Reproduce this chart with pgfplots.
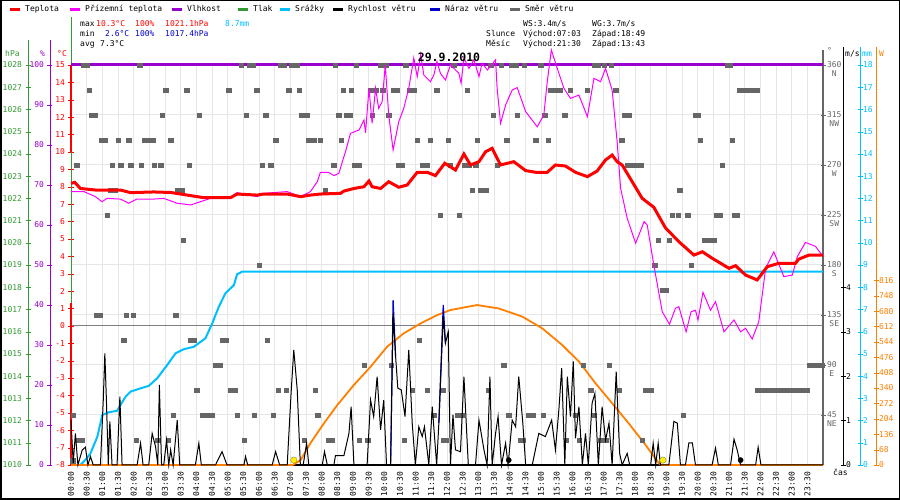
\documentclass[border=0pt]{standalone}
\usepackage{fontspec}
\setmainfont{DejaVu Sans Mono}
\usepackage{pgfplots}
\pgfplotsset{compat=1.18}
\usepackage{pgfplotstable}

\definecolor{tlak}{HTML}{339933}
\definecolor{vlh}{HTML}{9900CC}
\definecolor{teplo}{HTML}{FF0000}
\definecolor{priz}{HTML}{FF00FF}
\definecolor{sraz}{HTML}{00BFFF}
\definecolor{naraz}{HTML}{0000CC}
\definecolor{smer}{HTML}{666666}
\definecolor{solar}{HTML}{FF8000}
\definecolor{gridc}{HTML}{E6E6E6}
\definecolor{minc}{HTML}{0000CC}

\pgfplotsset{
  every axis/.append style={scale only axis,
    /pgf/number format/1000 sep={},
    /pgf/number format/assume math mode=true,
    ticklabel style={font=\fontsize{8}{8}\selectfont},
    major tick length=5pt, tick align=center},
  full/.style={at={(71pt,35pt)}, anchor=south west, width=752pt, height=400pt,
    xmin=0, xmax=24},
  series/.style={full, hide axis, clip=false},
  narrowL/.style={anchor=south west, width=10pt, height=400pt, xmin=0, xmax=1,
    axis y line*=left, axis x line=none},
  narrowR/.style={anchor=south east, width=10pt, height=400pt, xmin=0, xmax=1,
    axis y line*=right, axis x line=none},
}

\pgfplotstableread{
h T
0.00 8.20
0.12 8.25
0.30 7.90
0.78 7.81
1.58 7.81
1.90 7.66
2.64 7.70
3.18 7.67
3.71 7.52
4.24 7.37
5.09 7.37
5.30 7.58
5.94 7.52
6.15 7.58
6.90 7.58
7.33 7.43
7.64 7.52
7.96 7.58
8.60 7.62
8.71 7.75
9.03 7.90
9.35 8.00
9.51 8.33
9.61 8.00
9.88 7.90
10.14 8.29
10.46 7.97
10.73 8.10
11.05 8.83
11.37 8.83
11.63 8.64
11.93 9.35
12.27 8.96
12.54 9.88
12.75 9.25
13.02 9.44
13.23 10.01
13.44 10.21
13.71 9.25
14.13 9.44
14.51 8.93
14.83 8.83
15.20 8.83
15.46 9.25
15.78 9.19
16.10 8.83
16.48 8.58
16.79 8.90
17.06 9.54
17.27 9.82
17.43 9.44
17.59 9.25
17.91 8.29
18.23 7.33
18.60 6.82
18.97 5.64
19.40 4.84
19.88 4.07
20.15 4.26
20.47 3.88
21.00 3.31
21.21 3.46
21.53 2.92
21.90 2.64
22.22 3.40
22.59 3.60
23.12 3.60
23.23 3.84
23.55 4.07
24.00 4.07
}\tempdata

\pgfplotstableread{
h T
0.00 7.72
0.41 7.72
0.78 7.43
0.99 7.14
1.15 7.33
1.58 7.29
1.84 7.05
2.10 7.29
2.64 7.29
2.96 7.33
3.39 7.05
3.82 6.95
4.13 7.14
4.45 7.33
5.09 7.37
5.30 7.66
5.51 7.58
5.94 7.43
6.15 7.62
6.90 7.72
7.33 7.43
7.64 7.72
7.86 8.29
7.96 8.83
8.22 8.83
8.39 8.64
8.55 8.77
8.66 9.44
8.76 10.01
8.92 11.07
9.19 11.26
9.35 11.84
9.40 11.10
9.51 13.66
9.61 11.65
9.72 13.66
9.82 12.51
9.93 12.89
10.03 15.00
10.14 12.12
10.28 10.11
10.46 11.74
10.62 12.51
10.78 13.66
10.94 15.40
11.05 14.33
11.16 15.60
11.26 14.42
11.47 14.04
11.58 14.42
11.68 15.20
11.79 14.52
11.95 14.14
12.11 15.00
12.38 14.52
12.45 13.95
12.54 15.40
12.70 14.80
12.86 15.30
13.02 14.33
13.12 15.10
13.29 14.71
13.55 15.30
13.60 13.66
13.71 11.65
13.87 12.70
14.08 13.56
14.24 13.70
14.51 12.32
14.88 11.45
15.09 12.12
15.20 14.04
15.33 15.86
15.52 14.80
15.73 13.66
15.94 13.08
16.21 13.27
16.48 12.03
16.69 14.23
16.90 14.04
17.06 14.80
17.27 13.56
17.43 10.59
17.54 7.91
17.75 6.19
18.02 4.75
18.29 5.99
18.39 5.80
18.60 3.50
18.87 0.81
19.10 0.09
19.29 1.01
19.40 1.10
19.63 -0.34
19.79 0.81
19.93 0.90
20.01 0.34
20.17 1.93
20.41 0.90
20.57 1.39
20.84 -0.34
21.16 0.34
21.37 -0.34
21.53 -0.14
21.74 -0.76
21.95 0.24
22.17 3.31
22.43 4.26
22.75 2.83
23.02 2.92
23.18 3.98
23.44 4.80
23.76 4.57
23.97 4.07
}\prizdata

\pgfplotstableread{
h mm
0.00 0
0.30 0
0.46 0.23
0.62 0.52
0.84 1.27
1.00 2.25
1.20 2.37
1.47 2.44
1.58 2.70
1.74 3.07
1.90 3.30
2.22 3.45
2.48 3.56
2.75 3.90
3.07 4.50
3.34 5.03
3.60 5.21
3.92 5.32
4.29 5.70
4.51 6.38
4.72 7.13
4.93 7.73
5.20 8.10
5.30 8.58
5.46 8.70
24.00 8.70
}\srazdata

\pgfplotstableread{
h W
0.00 0
7.08 0
7.33 22
7.64 96
8.07 184
8.50 265
9.03 354
9.56 434
10.09 523
10.62 582
11.16 626
11.69 663
12.11 685
12.96 707
13.65 692
14.40 656
15.04 604
15.68 530
16.21 457
16.74 361
17.27 273
17.80 184
18.34 88
18.76 8
18.85 0
24.00 0
}\solardata

\pgfplotstableread{
h ws
0.00 1.01
0.07 0.04
0.14 0.71
0.22 0
0.36 0.34
0.46 0.40
0.54 0
0.62 0.19
0.71 0
0.94 0
1.03 1.46
1.08 2.51
1.13 1.46
1.19 0
1.24 0.98
1.31 0
1.47 0
1.56 1.54
1.63 0
2.11 0
2.22 0.49
2.30 0
2.48 0
2.59 0.71
2.70 0.41
2.77 0
2.82 1.80
2.89 0
2.96 0
3.05 0.56
3.12 0
3.18 0.34
3.26 0
3.39 1.01
3.47 0
3.97 0
4.08 0.49
4.16 0
4.61 0
4.82 0.30
4.98 0
5.52 0
5.57 0.19
5.64 0
6.42 0
6.53 0.30
6.66 0
6.90 0
7.03 1.69
7.11 2.59
7.22 1.69
7.32 0
7.41 0
7.52 0.49
7.59 0
8.02 0
8.09 0.30
8.18 0
8.39 0
8.44 0.21
8.71 0.21
8.87 0.71
8.94 1.31
9.03 0
9.45 0
9.56 1.46
9.66 1.09
9.77 1.99
9.88 0.79
9.98 1.46
10.07 0
10.20 0
10.28 3.41
10.36 2.44
10.43 1.73
10.54 1.69
10.66 1.09
10.78 2.59
10.89 0.94
10.99 0
11.10 0.86
11.21 0.64
11.28 0.86
11.42 0
11.53 1.31
11.67 0
11.74 0.94
11.88 3.34
11.95 2.74
12.04 3.00
12.11 0
12.19 1.13
12.27 0.34
12.43 0.30
12.54 1.99
12.68 0
12.91 0
13.02 1.01
13.18 0.34
13.28 0
13.37 1.99
13.44 0
13.55 0.71
13.63 1.09
13.74 0
13.87 0.49
13.95 0
14.08 1.01
14.19 0.86
14.29 1.99
14.42 0.94
14.51 0
14.72 0
14.93 0.71
15.14 0.64
15.34 1.01
15.46 0.34
15.57 1.24
15.66 2.18
15.76 0
15.84 1.99
15.94 1.09
16.03 2.33
16.10 0.60
16.21 1.31
16.32 0
16.42 0.71
16.51 0
16.63 1.39
16.72 1.61
16.83 0
16.95 1.31
17.06 0.56
17.17 0.94
17.27 0
17.40 2.10
17.51 0.26
17.59 0
17.75 0.26
17.83 0
18.50 0
18.58 0.49
18.66 0
18.74 0.49
18.81 0
19.08 0
19.24 0.98
19.35 0.94
19.45 0
19.61 0
19.72 0.50
19.83 0.50
19.93 0
20.46 0
20.57 0.38
20.66 0
21.05 0
21.16 0.58
21.26 0.34
21.37 0
21.85 0
21.93 0.40
22.02 0
24.00 0
}\winddata

\pgfplotstableread{
h wg
10.20 0
10.28 3.71
10.36 2.44
11.80 nan
11.74 0.94
11.88 3.60
11.95 2.74
}\gustdata

\pgfplotstableread{
h d
0.41 360
0.52 360
2.19 360
5.44 360
5.68 360
5.81 360
6.69 360
6.79 360
7.04 360
7.20 360
8.44 360
9.10 360
9.88 360
10.04 360
10.68 360
12.22 360
13.39 360
13.73 360
14.05 360
14.19 360
14.47 360
14.99 360
16.72 360
16.83 360
17.01 360
17.24 360
20.94 360
21.02 360
0.59 337.5
3.02 337.5
3.69 337.5
5.03 337.5
5.93 337.5
6.95 337.5
7.29 337.5
8.69 337.5
8.95 337.5
9.56 337.5
9.74 337.5
9.95 337.5
10.28 337.5
10.41 337.5
10.80 337.5
10.94 337.5
11.67 337.5
12.64 337.5
15.30 337.5
15.46 337.5
15.62 337.5
15.94 337.5
16.47 337.5
17.38 337.5
21.32 337.5
21.47 337.5
21.63 337.5
21.79 337.5
21.90 337.5
0.64 315
0.75 315
2.92 315
4.10 315
5.60 315
6.21 315
7.36 315
7.54 315
8.54 315
8.78 315
8.92 315
9.61 315
10.14 315
13.47 315
14.24 315
15.12 315
15.75 315
17.67 315
17.82 315
19.93 315
20.01 315
0.97 292.5
1.10 292.5
1.51 292.5
1.84 292.5
2.35 292.5
2.48 292.5
2.62 292.5
3.18 292.5
6.53 292.5
7.59 292.5
7.75 292.5
7.96 292.5
8.63 292.5
11.05 292.5
11.47 292.5
12.04 292.5
12.97 292.5
13.90 292.5
14.83 292.5
15.23 292.5
17.57 292.5
20.09 292.5
21.10 292.5
0.18 270
1.32 270
1.58 270
1.91 270
2.24 270
2.65 270
2.86 270
3.78 270
6.11 270
6.37 270
8.39 270
9.03 270
9.20 270
10.44 270
10.57 270
11.21 270
11.35 270
12.11 270
12.54 270
12.70 270
12.91 270
13.60 270
17.75 270
17.91 270
18.07 270
18.18 270
20.78 270
1.26 247.5
1.42 247.5
3.41 247.5
3.55 247.5
8.12 247.5
12.80 247.5
13.07 247.5
13.25 247.5
19.42 247.5
1.15 225
11.79 225
12.38 225
19.19 225
19.37 225
19.68 225
20.59 225
20.72 225
21.17 225
21.27 225
3.58 202.5
18.74 202.5
19.10 202.5
20.20 202.5
20.36 202.5
20.52 202.5
6.01 180
18.63 180
19.79 180
18.87 157.5
19.00 157.5
0.80 135
0.94 135
1.76 135
1.99 135
3.34 135
1.68 112.5
3.81 112.5
3.94 112.5
4.82 112.5
4.96 112.5
6.27 112.5
11.12 112.5
4.61 90
4.77 90
9.35 90
10.22 90
13.81 90
16.34 90
17.17 90
23.55 90
23.71 90
23.87 90
23.98 90
4.01 67.5
5.09 67.5
5.22 67.5
6.61 67.5
6.87 67.5
7.80 67.5
10.89 67.5
11.37 67.5
11.86 67.5
13.32 67.5
16.58 67.5
17.49 67.5
18.34 67.5
18.50 67.5
21.90 67.5
22.05 67.5
22.20 67.5
22.35 67.5
22.50 67.5
22.65 67.5
22.80 67.5
22.95 67.5
23.10 67.5
23.25 67.5
23.40 67.5
23.50 67.5
0.07 45
3.26 45
4.19 45
4.35 45
4.50 45
5.30 45
5.85 45
6.45 45
7.87 45
11.58 45
12.33 45
12.48 45
13.97 45
14.61 45
14.74 45
15.07 45
16.10 45
16.69 45
19.54 45
0.25 22.5
0.36 22.5
2.09 22.5
2.77 22.5
3.11 22.5
5.53 22.5
7.45 22.5
8.21 22.5
8.34 22.5
9.19 22.5
9.47 22.5
10.64 22.5
11.88 22.5
11.98 22.5
14.35 22.5
14.42 22.5
15.80 22.5
16.22 22.5
16.90 22.5
17.09 22.5
18.23 22.5
0.05 4
}\dirdata

\begin{document}
\begin{tikzpicture}[font=\fontsize{8}{8}\selectfont]
\useasboundingbox (0,0) rectangle (900pt,500pt);
\fill[white] (0,0) rectangle (900pt,500pt);

% ---------- grid / time axis / wind direction axis
\begin{axis}[full, ymin=0, ymax=360,
  axis x line*=bottom, axis y line*=right,
  x axis line style={black, line width=2pt},
  y axis line style={smer, line width=1.5pt, shorten >=-15pt},
  xtick={0,0.5,...,23.5},
  xticklabels={00:00,00:30,01:00,01:30,02:00,02:30,03:00,03:30,04:00,04:30,05:00,05:30,06:00,06:30,07:00,07:30,08:00,08:30,09:00,09:30,10:00,10:30,11:00,11:30,12:00,12:30,13:00,13:30,14:00,14:30,15:00,15:30,16:00,16:30,17:00,17:30,18:00,18:30,19:00,19:30,20:00,20:30,21:00,21:30,22:00,22:30,23:00,23:30},
  xticklabel style={rotate=90, anchor=east, text=black, xshift=-1pt},
  xtick style={draw=none},
  xmajorgrids, ymajorgrids, grid style={gridc, line width=1pt},
  ytick={45,90,135,180,225,270,315,360},
  yticklabels={{\begin{tabular}[t]{@{}c@{}}45\\NE\end{tabular}},
    {\begin{tabular}[t]{@{}c@{}}90\\E\end{tabular}},
    {\begin{tabular}[t]{@{}c@{}}135\\SE\end{tabular}},
    {\begin{tabular}[t]{@{}c@{}}180\\S\end{tabular}},
    {\begin{tabular}[t]{@{}c@{}}225\\SW\end{tabular}},
    {\begin{tabular}[t]{@{}c@{}}270\\W\end{tabular}},
    {\begin{tabular}[t]{@{}c@{}}315\\NW\end{tabular}},
    {\begin{tabular}[t]{@{}c@{}}360\\N\end{tabular}}},
  yticklabel style={text=smer, anchor=base west, yshift=-3pt, xshift=-2pt},
  ytick style={draw=smer}]
\end{axis}

% ---------- temperature axis (left), 0 line
\begin{axis}[full, ymin=-8, ymax=15, clip=false,
  axis y line*=left, axis x line=none,
  y axis line style={tlak, shorten >=-48pt},
  ytick={-8,...,15}, ytick style={draw=teplo},
  yticklabel style={text=teplo}]
\addplot[draw=gray, line width=1pt] coordinates {(0,0) (24,0)};
\addplot[teplo, line width=2pt] coordinates {(0,10) (0,15)};
\addplot[teplo, line width=2pt] coordinates {(0,-8) (0,1.3)};
\end{axis}

% ---------- pressure axis
\begin{axis}[narrowL, at={(28pt,35pt)}, ymin=1010, ymax=1028,
  y axis line style={tlak, shorten >=-25pt},
  ytick={1010,...,1028}, ytick style={draw=tlak}, yticklabel style={text=tlak}]
\end{axis}

% ---------- humidity axis
\begin{axis}[narrowL, at={(50pt,35pt)}, ymin=0, ymax=100,
  y axis line style={vlh, shorten >=-25pt},
  ytick={0,10,...,100}, ytick style={draw=vlh}, yticklabel style={text=vlh}]
\end{axis}

% ---------- wind speed axis
\begin{axis}[narrowR, at={(843pt,35pt)}, ymin=0, ymax=9,
  y axis line style={black, shorten >=-18pt},
  ytick={0,...,4}, ytick style={draw=black}, yticklabel style={text=black, xshift=-3pt}]
\end{axis}

% ---------- precipitation axis
\begin{axis}[narrowR, at={(860pt,35pt)}, ymin=0, ymax=18,
  y axis line style={sraz, shorten >=-18pt},
  ytick={0,...,18}, ytick style={draw=sraz}, yticklabel style={text=sraz, xshift=-3pt}]
\end{axis}

% ---------- solar axis
\begin{axis}[narrowR, at={(876pt,35pt)}, ymin=0, ymax=1768,
  y axis line style={solar, shorten >=-18pt},
  ytick={0,68,...,816}, ytick style={draw=solar}, yticklabel style={text=solar, xshift=-3pt}]
\end{axis}

% ---------- humidity series
\begin{axis}[series, ymin=0, ymax=100]
\addplot[vlh, line width=3pt] coordinates {(0,100) (24,100)};
\end{axis}

% ---------- precipitation series
\begin{axis}[series, ymin=0, ymax=18]
\addplot[sraz, line width=2pt] table[x=h, y=mm] {\srazdata};
\end{axis}

% ---------- solar series
\begin{axis}[series, ymin=0, ymax=1768]
\addplot[solar, line width=1.8pt] table[x=h, y=W] {\solardata};
\end{axis}

% ---------- wind direction
\begin{axis}[series, ymin=0, ymax=360]
\addplot[only marks, mark=square*, mark size=2.2pt,
  mark options={fill=smer, draw=smer}] table[x=h, y=d] {\dirdata};
\end{axis}

% ---------- wind speed, gusts, sun/moon
\begin{axis}[series, ymin=0, ymax=9, unbounded coords=jump]
\addplot[naraz, line width=1.2pt] table[x=h, y=wg] {\gustdata};
\addplot[black, line width=1pt] table[x=h, y=ws] {\winddata};
\addplot[only marks, mark=*, mark size=3.2pt, mark options={fill=yellow, draw=black!50!yellow}]
  coordinates {(7.11,0.11) (18.89,0.11)};
\addplot[only marks, mark=*, mark size=2.6pt, mark options={fill=black, draw=black}]
  coordinates {(13.97,0.11) (21.37,0.11)};
\end{axis}

% ---------- temperatures
\begin{axis}[series, ymin=-8, ymax=15]
\addplot[priz, line width=1pt] table[x=h, y=T] {\prizdata};
\addplot[teplo, line width=3pt] table[x=h, y=T] {\tempdata};
\end{axis}

% ---------- title, units, info
\node[font=\fontsize{11.5}{12}\bfseries\selectfont, anchor=base] at (449pt,438pt) {29.9.2010};
\node[anchor=base west, inner sep=0, text=tlak] at (5pt,443.5pt) {hPa};
\node[anchor=base west, inner sep=0, text=vlh] at (40pt,443.5pt) {\%};
\node[anchor=base west, inner sep=0, text=teplo] at (57pt,443.5pt) {°C};
\node[anchor=base west, inner sep=0, text=smer] at (827pt,446pt) {°};
\node[anchor=base west, inner sep=0, text=black] at (845pt,443.5pt) {m/s};
\node[anchor=base west, inner sep=0, text=sraz] at (862pt,443.5pt) {mm};
\node[anchor=base west, inner sep=0, text=solar] at (879pt,443.5pt) {W};
\node[anchor=base west, inner sep=0] at (833pt,24pt) {čas};

% legend
\foreach \xa/\col/\txt in {10/teplo/Teplota, 70/priz/Přízemní teplota, 172/vlh/Vlhkost,
   238/tlak/Tlak, 280/sraz/Srážky, 333/black/Rychlost větru, 430/naraz/Náraz větru, 510/smer/Směr větru}{
  \draw[\col, line width=3pt] (\xa pt,490.7pt) -- ++(10pt,0);
  \node[anchor=base west, inner sep=0] at ([xshift=15pt]\xa pt,488pt) {\txt};
}

% info block
\node[anchor=base west, inner sep=0] at (80pt,473pt) {max};
\node[anchor=base west, inner sep=0, text=teplo] at (96pt,473pt) {10.3°C};
\node[anchor=base west, inner sep=0, text=teplo] at (135pt,473pt) {100\%};
\node[anchor=base west, inner sep=0, text=teplo] at (165pt,473pt) {1021.1hPa};
\node[anchor=base west, inner sep=0, text=sraz] at (225pt,473pt) {8.7mm};
\node[anchor=base west, inner sep=0] at (80pt,463pt) {min};
\node[anchor=base west, inner sep=0, text=minc] at (105pt,463pt) {2.6°C};
\node[anchor=base west, inner sep=0, text=minc] at (135pt,463pt) {100\%};
\node[anchor=base west, inner sep=0, text=minc] at (165pt,463pt) {1017.4hPa};
\node[anchor=base west, inner sep=0] at (80pt,453pt) {avg};
\node[anchor=base west, inner sep=0] at (100pt,453pt) {7.3°C};

\node[anchor=base west, inner sep=0] at (523pt,473pt) {WS:3.4m/s};
\node[anchor=base west, inner sep=0] at (592pt,473pt) {WG:3.7m/s};
\node[anchor=base west, inner sep=0] at (486pt,463pt) {Slunce};
\node[anchor=base west, inner sep=0] at (523pt,463pt) {Východ:07:03};
\node[anchor=base west, inner sep=0] at (592pt,463pt) {Západ:18:49};
\node[anchor=base west, inner sep=0] at (486pt,453pt) {Měsíc};
\node[anchor=base west, inner sep=0] at (523pt,453pt) {Východ:21:30};
\node[anchor=base west, inner sep=0] at (592pt,453pt) {Západ:13:43};

\draw[black, line width=1.5pt] (0.75pt,0.75pt) rectangle (899.25pt,499.25pt);
\end{tikzpicture}
\end{document}
